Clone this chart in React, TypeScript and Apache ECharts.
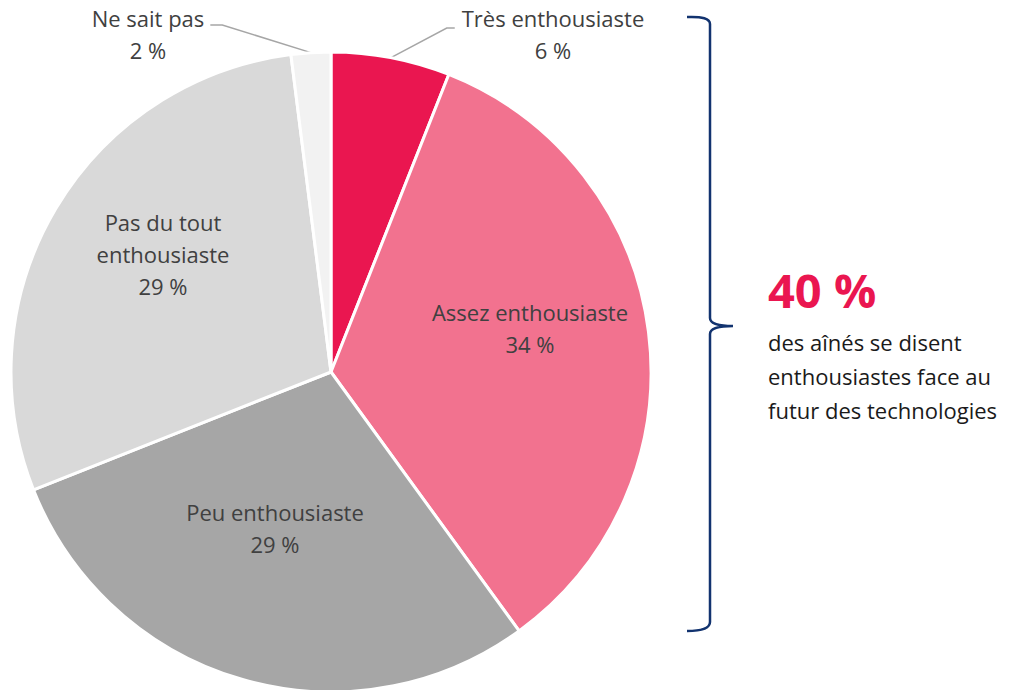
import React, { useEffect, useRef } from "react";
import * as echarts from "echarts";

const categories = ["Très enthousiaste", "Assez enthousiaste", "Peu enthousiaste", "Pas du tout\nenthousiaste", "Ne sait pas"];
const values = [6, 34, 29, 29, 2];
const colors = ["#EA1650", "#F2728F", "#A6A6A6", "#D9D9D9", "#F2F2F2"];
const outsideLabels = [true, false, false, false, true];
// label centres (px) — layout only
const labelCenters = [[553, 34], [530, 328], [275, 528], [163, 254], [148, 34]];

const headline = "40 %";
const noteLines = ["des aînés se disent", "enthousiastes face au", "futur des technologies"];

const FONT = "'Open Sans', 'Noto Sans', sans-serif";

export default function App() {
  const ref = useRef<HTMLDivElement>(null);
  useEffect(() => {
    if (!ref.current) return;
    echarts.graphic.registerShape(
      "brace",
      echarts.graphic.extendPath(
        "M687,17 Q710,16 710,24 L710,318 Q710,326 733,326 Q710,326 710,334 L710,622 Q710,631 687,631",
        {}
      )
    );
    const chart = echarts.init(ref.current, undefined, { renderer: "svg" });
    const data = categories.map((name, i) => ({
      name,
      value: values[i],
      itemStyle: { color: colors[i] },
      label: { position: outsideLabels[i] ? "outside" : "inside" },
      labelLine: { show: outsideLabels[i] },
    }));
    chart.setOption({
      animation: false,
      series: [
        {
          type: "pie",
          center: [331, 372],
          radius: 320,
          startAngle: 90,
          clockwise: true,
          data,
          itemStyle: { borderColor: "#ffffff", borderWidth: 3 },
          label: {
            formatter: "{b}\n{c} %",
            color: "#404040",
            fontFamily: FONT,
            fontSize: 22,
            lineHeight: 32,
            align: "center",
          },
          labelLine: { lineStyle: { color: "#A6A6A6", width: 1.5 } },
          labelLayout: (params: any) => {
            const i = params.dataIndex;
            const [cx, cy] = labelCenters[i];
            const w = params.labelRect.width;
            const res: any = { x: cx, y: cy, align: "center", verticalAlign: "middle" };
            if (outsideLabels[i] && params.labelLinePoints) {
              const p0 = params.labelLinePoints[0];
              const right = p0[0] > 331;
              if (right) {
                const end = [cx - w / 2 - 7, cy - 6];
                res.labelLinePoints = [p0, [end[0] - 8, end[1]], end];
              } else {
                const end = [cx + w / 2 + 6, cy - 9];
                res.labelLinePoints = [p0, [end[0] + 12, end[1]], end];
              }
            }
            return res;
          },
        },
      ],
      graphic: [
        {
          type: "brace",
          x: 0,
          y: 0,
          style: { fill: "none", stroke: "#12336F", lineWidth: 2.5 },
        },
        {
          type: "text",
          x: 768,
          y: 290,
          style: {
            text: headline,
            fill: "#EA1650",
            font: `bold 47px ${FONT}`,
            textVerticalAlign: "middle",
          },
        },
        {
          type: "text",
          x: 768,
          y: 325,
          style: {
            text: noteLines.join("\n"),
            fill: "#1A1A1A",
            font: `22px ${FONT}`,
            lineHeight: 34,
            textVerticalAlign: "top",
          },
        },
      ],
    });
    return () => chart.dispose();
  }, []);
  return (
    <div
      ref={ref}
      style={{ position: "fixed", left: 0, top: 0, width: 1021, height: 690, background: "#fff" }}
    />
  );
}
